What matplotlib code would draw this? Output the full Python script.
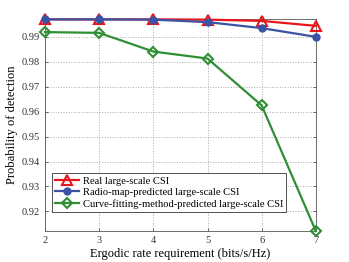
import matplotlib
matplotlib.use("Agg")
import matplotlib.pyplot as plt

plt.rcParams["font.family"] = ["Liberation Serif", "DejaVu Serif"]
plt.rcParams["mathtext.fontset"] = "stix"

rate = [2, 3, 4, 5, 6, 7]
real_csi = [0.9970, 0.9970, 0.9970, 0.9969, 0.9964, 0.9944]
radio_map = [0.9970, 0.9970, 0.9969, 0.9959, 0.9935, 0.9900]
curve_fit = [0.9919, 0.9916, 0.9841, 0.9813, 0.9625, 0.9121]

fig = plt.figure(figsize=(3.49, 2.62), dpi=100)
ax = fig.add_axes([0.129, 0.118, 0.776, 0.808])

ax.plot(rate, real_csi, color="#e8161b", lw=1.6, marker="^", ms=7,
        mfc="none", mew=1.5, clip_on=False, zorder=3, label="Real large-scale CSI")
ax.plot(rate, radio_map, color="#3a53a4", lw=1.6, marker="o", ms=5,
        clip_on=False, zorder=4, label="Radio-map-predicted large-scale CSI")
ax.plot(rate, curve_fit, color="#2f8f35", lw=1.6, marker="D", ms=5.5,
        mfc="none", mew=1.5, clip_on=False, zorder=3,
        label="Curve-fitting-method-predicted large-scale CSI")

ax.set_xlim(2, 7)
ax.set_ylim(0.9121, 0.997)
ax.set_xticks(rate)
ax.set_yticks([0.92, 0.93, 0.94, 0.95, 0.96, 0.97, 0.98, 0.99])
ax.set_yticklabels(["0.92", "0.93", "0.94", "0.95", "0.96", "0.97", "0.98", "0.99"])
ax.tick_params(direction="in", labelsize=7.5, length=2.5, width=0.5, colors="#333333",
               top=True, right=True)
ax.grid(True, ls=":", color="#aaaaaa", lw=0.7)
for s in ax.spines.values():
    s.set_color("#555555")
    s.set_linewidth(0.6)

ax.set_xlabel("Ergodic rate requirement (bits/s/Hz)", fontsize=9, labelpad=2)
ax.set_ylabel("Probability of detection", fontsize=9, labelpad=3)

leg = ax.legend(loc="lower left", bbox_to_anchor=(0.01, 0.07), fontsize=7.6,
                fancybox=False, edgecolor="#333333", framealpha=1,
                handlelength=2.3, handletextpad=0.3, borderpad=0.3,
                labelspacing=0.2, borderaxespad=0.4)
leg.get_frame().set_linewidth(0.6)

fig.savefig("out.png", dpi=100)
